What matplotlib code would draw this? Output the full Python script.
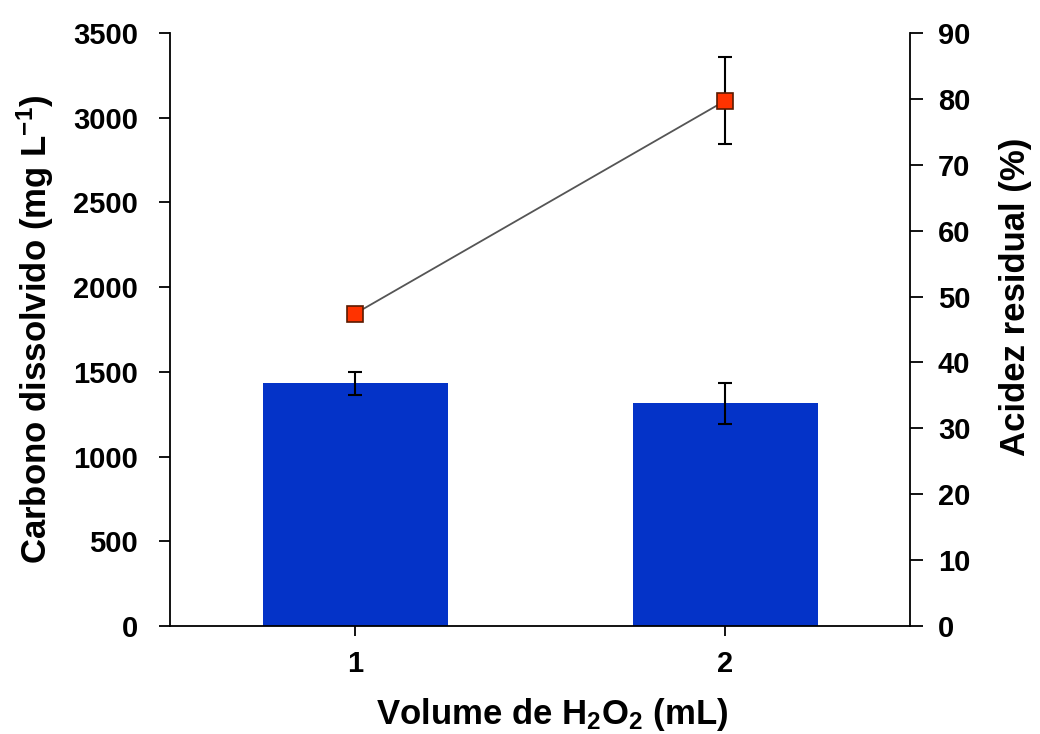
import matplotlib
matplotlib.use("Agg")
import matplotlib.pyplot as plt

volumes = [1, 2]
tick_labels = ["1", "2"]
carbono = [1432, 1314]
carbono_err = [66, 121]
acidez = [47.4, 79.7]
acidez_err = [0, 6.6]

plt.rcParams['font.family'] = ['Liberation Sans', 'DejaVu Sans']
plt.rcParams['font.weight'] = 'bold'
plt.rcParams['mathtext.fontset'] = 'custom'
plt.rcParams['mathtext.rm'] = 'Liberation Sans:bold'
plt.rcParams['mathtext.bf'] = 'Liberation Sans:bold'
plt.rcParams['mathtext.it'] = 'Liberation Sans:bold'

fig = plt.figure(figsize=(10.4, 7.34), dpi=100)
ax = fig.add_axes([170/1040, 1-626/734, (910-170)/1040, (626-33)/734])

ax.bar(volumes, carbono, width=0.5, color='#0433C8', zorder=2)
ax.errorbar(volumes, carbono, yerr=carbono_err, fmt='none', ecolor='black',
            elinewidth=1.5, capsize=5, capthick=1.5, zorder=3)
ax.set_xlim(0.5, 2.5)
ax.set_ylim(0, 3500)
ax.set_yticks(range(0, 3501, 500))
ax.set_xticks(volumes)
ax.set_xticklabels(tick_labels)
ax.spines['top'].set_visible(False)
ax.spines['right'].set_visible(False)
for s in ['left', 'bottom']:
    ax.spines[s].set_linewidth(1.3)
ax.tick_params(axis='y', direction='out', length=8, width=1.3,
               labelsize=21, pad=15)
ax.tick_params(axis='x', direction='out', length=7, width=1.3,
               labelsize=21, pad=10)
for lab in ax.get_xticklabels() + ax.get_yticklabels():
    lab.set_fontweight('bold')
ax.set_ylabel(r'Carbono dissolvido (mg L$^{\mathbf{-1}}$)', fontsize=25,
              fontweight='bold', labelpad=12)
ax.set_xlabel(r'Volume de H$_\mathbf{2}$O$_\mathbf{2}$ (mL)', fontsize=25,
              fontweight='bold', labelpad=13)
ax.xaxis.label.set_x(0.517)

ax2 = ax.twinx()
ax2.plot(volumes, acidez, color='#555555', linewidth=1.3, zorder=2)
ax2.errorbar(volumes, acidez, yerr=acidez_err, fmt='none', ecolor='black',
             elinewidth=1.5, capsize=5, capthick=1.5, zorder=3)
ax2.plot(volumes, acidez, linestyle='none', marker='s', markersize=11,
         markerfacecolor='#FF3300', markeredgecolor='#5a1a00',
         markeredgewidth=1.2, zorder=4)
ax2.set_ylim(0, 90)
ax2.set_yticks(range(0, 91, 10))
ax2.spines['top'].set_visible(False)
ax2.spines['left'].set_visible(False)
ax2.spines['bottom'].set_visible(False)
ax2.spines['right'].set_linewidth(1.3)
ax2.tick_params(axis='y', direction='out', length=9, width=1.3,
                labelsize=21, pad=11)
for lab in ax2.get_yticklabels():
    lab.set_fontweight('bold')
ax2.set_ylabel('Acidez residual (%)', fontsize=25, fontweight='bold',
               labelpad=21)
ax2.yaxis.label.set_y(0.555)

fig.savefig('out.png', dpi=100)
